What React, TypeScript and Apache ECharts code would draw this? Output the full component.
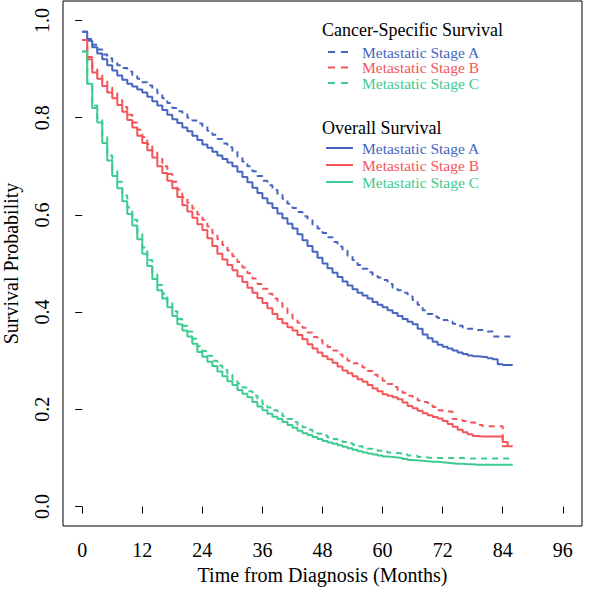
import React, { useEffect, useRef } from "react";
import * as echarts from "echarts";

const TIME = [
  0, 1, 2, 3, 4, 5, 6, 7, 8, 9, 10, 11, 12, 13, 14, 15, 16, 17, 18, 19, 20, 21, 22, 23, 24, 25, 26, 27, 28, 29,
  30, 31, 32, 33, 34, 35, 36, 37, 38, 39, 40, 41, 42, 43, 44, 45, 46, 47, 48, 49, 50, 51, 52, 53, 54, 55, 56, 57, 58, 59,
  60, 61, 62, 63, 64, 65, 66, 67, 68, 69, 70, 71, 72, 73, 74, 75, 76, 77, 78, 79, 80, 81, 82, 83, 84, 85, 86,
];

// Overall survival (solid)
const OS_A = [
  0.977, 0.958, 0.945, 0.932, 0.92, 0.908, 0.897, 0.887, 0.878, 0.87,
  0.864, 0.858, 0.852, 0.843, 0.834, 0.825, 0.816, 0.806, 0.797, 0.789,
  0.78, 0.772, 0.763, 0.754, 0.745, 0.738, 0.73, 0.722, 0.715, 0.708,
  0.7, 0.689, 0.678, 0.667, 0.656, 0.645, 0.634, 0.624, 0.614, 0.603,
  0.593, 0.582, 0.572, 0.56, 0.548, 0.536, 0.524, 0.512, 0.5, 0.49,
  0.481, 0.472, 0.463, 0.455, 0.447, 0.44, 0.434, 0.428, 0.421, 0.415,
  0.41, 0.404, 0.398, 0.392, 0.386, 0.38, 0.375, 0.366, 0.354, 0.346,
  0.339, 0.333, 0.329, 0.325, 0.321, 0.317, 0.314, 0.311, 0.309, 0.308,
  0.307, 0.305, 0.303, 0.293, 0.291, 0.291, 0.291,
];
const OS_B = [
  0.96, 0.92, 0.893, 0.88, 0.865, 0.852, 0.84, 0.826, 0.812, 0.795,
  0.78, 0.763, 0.748, 0.733, 0.718, 0.7, 0.686, 0.67, 0.655, 0.637,
  0.62, 0.607, 0.594, 0.581, 0.569, 0.552, 0.536, 0.52, 0.508, 0.497,
  0.486, 0.474, 0.462, 0.45, 0.44, 0.429, 0.419, 0.408, 0.396, 0.386,
  0.377, 0.369, 0.362, 0.353, 0.344, 0.334, 0.325, 0.317, 0.309, 0.303,
  0.296, 0.288, 0.28, 0.274, 0.268, 0.262, 0.257, 0.25, 0.243, 0.237,
  0.231, 0.228, 0.225, 0.221, 0.214, 0.207, 0.202, 0.197, 0.192, 0.188,
  0.184, 0.181, 0.176, 0.17, 0.164, 0.158, 0.153, 0.149, 0.145, 0.144,
  0.144, 0.144, 0.144, 0.144, 0.133, 0.124, 0.124,
];
const OS_C = [
  0.936, 0.87, 0.82, 0.79, 0.748, 0.712, 0.68, 0.655, 0.628, 0.602,
  0.578, 0.55, 0.52, 0.495, 0.468, 0.445, 0.428, 0.41, 0.392, 0.375,
  0.362, 0.35, 0.335, 0.318, 0.308, 0.298, 0.289, 0.278, 0.268, 0.258,
  0.25, 0.24, 0.232, 0.225, 0.215, 0.206, 0.198, 0.191, 0.185, 0.18,
  0.174, 0.168, 0.162, 0.156, 0.151, 0.147, 0.143, 0.139, 0.135, 0.132,
  0.129, 0.126, 0.123, 0.12, 0.117, 0.114, 0.111, 0.109, 0.107, 0.105,
  0.103, 0.102, 0.101, 0.1, 0.098, 0.096, 0.095, 0.094, 0.093, 0.092,
  0.092, 0.091, 0.09, 0.089, 0.088, 0.088, 0.087, 0.087, 0.086, 0.086,
  0.086, 0.086, 0.086, 0.086, 0.086, 0.086, 0.086,
];

// Cancer-specific survival (dashed)
const CSS_A = [
  0.977, 0.962, 0.95, 0.94, 0.93, 0.922, 0.915, 0.908, 0.902, 0.895,
  0.888, 0.88, 0.873, 0.866, 0.858, 0.85, 0.84, 0.83, 0.82, 0.813,
  0.807, 0.8, 0.794, 0.788, 0.782, 0.773, 0.765, 0.756, 0.747, 0.739,
  0.73, 0.72, 0.71, 0.7, 0.69, 0.68, 0.67, 0.661, 0.651, 0.642,
  0.633, 0.623, 0.614, 0.606, 0.597, 0.589, 0.58, 0.572, 0.563, 0.554,
  0.544, 0.535, 0.526, 0.516, 0.507, 0.497, 0.489, 0.482, 0.476, 0.471,
  0.466, 0.458, 0.45, 0.445, 0.44, 0.432, 0.425, 0.415, 0.404, 0.396,
  0.391, 0.388, 0.384, 0.38, 0.376, 0.372, 0.368, 0.366, 0.365, 0.363,
  0.362, 0.36, 0.35, 0.35, 0.35, 0.35, 0.35,
];
const CSS_B = [
  0.96, 0.925, 0.9, 0.888, 0.875, 0.862, 0.85, 0.836, 0.822, 0.806,
  0.79, 0.775, 0.76, 0.746, 0.731, 0.715, 0.7, 0.684, 0.668, 0.652,
  0.637, 0.625, 0.613, 0.601, 0.59, 0.576, 0.562, 0.55, 0.538, 0.527,
  0.515, 0.503, 0.492, 0.48, 0.469, 0.458, 0.448, 0.438, 0.428, 0.419,
  0.408, 0.397, 0.387, 0.378, 0.368, 0.358, 0.349, 0.342, 0.335, 0.328,
  0.321, 0.313, 0.305, 0.3, 0.295, 0.29, 0.286, 0.279, 0.271, 0.265,
  0.259, 0.252, 0.246, 0.239, 0.234, 0.228, 0.223, 0.218, 0.215, 0.213,
  0.205, 0.198, 0.196, 0.195, 0.18, 0.178, 0.176, 0.173, 0.172, 0.168,
  0.165, 0.165, 0.165, 0.165, 0.124, 0.124, 0.124,
];
const CSS_C = [
  0.936, 0.87, 0.825, 0.795, 0.76, 0.722, 0.692, 0.668, 0.64, 0.615,
  0.59, 0.562, 0.533, 0.507, 0.48, 0.456, 0.438, 0.42, 0.402, 0.386,
  0.372, 0.36, 0.345, 0.33, 0.32, 0.31, 0.3, 0.29, 0.281, 0.271,
  0.262, 0.253, 0.245, 0.237, 0.228, 0.219, 0.211, 0.204, 0.198, 0.192,
  0.186, 0.18, 0.174, 0.168, 0.163, 0.158, 0.154, 0.15, 0.146, 0.142,
  0.139, 0.136, 0.133, 0.13, 0.127, 0.124, 0.121, 0.119, 0.117, 0.115,
  0.113, 0.111, 0.11, 0.109, 0.107, 0.105, 0.104, 0.102, 0.101, 0.1,
  0.1, 0.1, 0.1, 0.1, 0.1, 0.1, 0.099, 0.099, 0.099, 0.099,
  0.099, 0.099, 0.099, 0.099, 0.099, 0.099, 0.099,
];

const X_TICKS = [0, 12, 24, 36, 48, 60, 72, 84, 96];
const Y_TICKS = [0, 0.2, 0.4, 0.6, 0.8, 1.0];
const GROUPS = ["Cancer-Specific Survival", "Overall Survival"];
const STAGES = ["Metastatic Stage A", "Metastatic Stage B", "Metastatic Stage C"];
const COLORS = ["#4565C0", "#F4555A", "#3DCB91"];
const X_TITLE = "Time from Diagnosis (Months)";
const Y_TITLE = "Survival Probability";

const FONT = "'Liberation Serif', 'Times New Roman', Times, serif";
const DASH = [6, 5];

export default function App() {
  const ref = useRef<HTMLDivElement>(null);

  useEffect(() => {
    const chart = echarts.init(ref.current!, null, { renderer: "svg" });
    const pair = (ys: number[]) => TIME.map((t, i) => [t, ys[i]]);
    const osData = [OS_A, OS_B, OS_C];
    const cssData = [CSS_A, CSS_B, CSS_C];
    const series: any[] = [];
    osData.forEach((ys, i) =>
      series.push({
        type: "line",
        name: GROUPS[1] + " " + STAGES[i],
        data: pair(ys),
        step: "end",
        showSymbol: false,
        silent: true,
        lineStyle: { color: COLORS[i], width: 2 },
        z: 2,
      })
    );
    cssData.forEach((ys, i) =>
      series.push({
        type: "line",
        name: GROUPS[0] + " " + STAGES[i],
        data: pair(ys),
        step: "end",
        showSymbol: false,
        silent: true,
        lineStyle: { color: COLORS[i], width: 2, type: DASH },
        z: 3,
      })
    );

    const graphic: any[] = [];
    const legendBlocks = [
      { title: GROUPS[0], titleY: 30, rows: [52, 67.5, 83], dashed: true },
      { title: GROUPS[1], titleY: 128, rows: [148, 165, 182], dashed: false },
    ];
    legendBlocks.forEach((b) => {
      graphic.push({
        type: "text",
        x: 322,
        y: b.titleY,
        style: {
          text: b.title,
          fill: "#000",
          fontSize: 18,
          fontFamily: FONT,
          verticalAlign: "middle",
          align: "left",
        },
      });
      b.rows.forEach((y, i) => {
        graphic.push({
          type: "line",
          shape: { x1: b.dashed ? 328 : 326, y1: y, x2: b.dashed ? 350 : 353, y2: y },
          style: { stroke: COLORS[i], lineWidth: 2, lineDash: b.dashed ? [7, 6] : null },
        });
        graphic.push({
          type: "text",
          x: 362,
          y,
          style: {
            text: STAGES[i],
            fill: COLORS[i],
            fontSize: 15.5,
            fontFamily: FONT,
            verticalAlign: "middle",
            align: "left",
          },
        });
      });
    });

    chart.setOption({
      animation: false,
      backgroundColor: "#fff",
      grid: {
        left: 63,
        right: 18,
        top: 1,
        bottom: 66,
        show: true,
        borderColor: "#000",
        borderWidth: 1,
        backgroundColor: "transparent",
        containLabel: false,
        outerBoundsMode: "none",
      },
      xAxis: {
        type: "value",
        min: -3.84,
        max: 99.84,
        axisLine: { show: false },
        splitLine: { show: false },
        axisTick: { show: true, customValues: X_TICKS, length: 7, lineStyle: { color: "#000", width: 1 } },
        axisLabel: { customValues: X_TICKS, fontSize: 20, fontFamily: FONT, color: "#000", margin: 14 },
        name: X_TITLE,
        nameLocation: "middle",
        nameGap: 25,
        nameTextStyle: { fontSize: 20, fontFamily: FONT, color: "#000" },
      },
      yAxis: {
        type: "value",
        min: -0.04,
        max: 1.04,
        axisLine: { show: false },
        splitLine: { show: false },
        axisTick: { show: true, customValues: Y_TICKS, length: 7, lineStyle: { color: "#000", width: 1 } },
        axisLabel: {
          customValues: Y_TICKS,
          rotate: 90,
          fontSize: 20,
          fontFamily: FONT,
          color: "#000",
          margin: 11,
          formatter: (v: number) => v.toFixed(1),
        },
        name: Y_TITLE,
        nameLocation: "middle",
        nameGap: 42,
        nameRotate: 90,
        nameTextStyle: { fontSize: 20, fontFamily: FONT, color: "#000" },
      },
      graphic,
      series,
    });

    return () => chart.dispose();
  }, []);

  return (
    <div
      ref={ref}
      style={{ position: "fixed", left: 0, top: 0, width: 600, height: 592, background: "#fff" }}
    />
  );
}
